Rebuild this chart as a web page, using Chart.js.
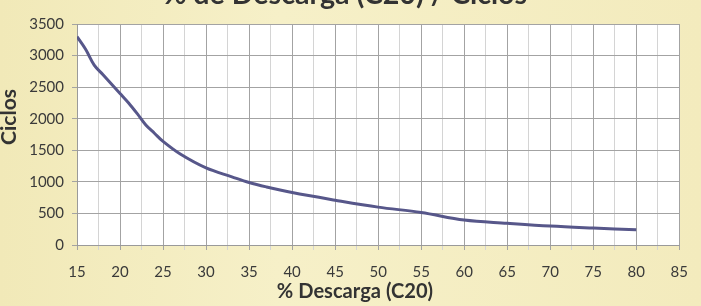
<!DOCTYPE html>
<html>
<head>
<meta charset="utf-8">
<script src="https://cdn.jsdelivr.net/npm/chart.js@4.4.0/dist/chart.umd.min.js"></script>
<style>
html,body{margin:0;padding:0;background:#f3ecbf;}
#wrap{width:701px;height:306px;position:relative;overflow:hidden;background:linear-gradient(90deg,#f1e9b8 0%,#f6f0c8 40%,#f3ebbd 100%);}
canvas{display:block;}
</style>
</head>
<body>
<div id="wrap"><canvas id="c" width="701" height="306"></canvas></div>
<script>
const chartTitle = '% de Descarga (C20) / Ciclos';
const xTitle = '% Descarga (C20)';
const yTitle = 'Ciclos';
const pctDescarga = [15,16,17,18,19,20,21,22,23,24,25,27,30,33,35,37,40,45,50,55,60,65,70,75,80];
const ciclos = [3300,3100,2850,2700,2550,2400,2250,2080,1900,1770,1640,1440,1220,1080,990,920,830,710,600,515,395,345,300,268,240];

const points = pctDescarga.map((x,i)=>({x:x,y:ciclos[i]}));
const FAM = 'Lato, "Open Sans", sans-serif';

function fitFont(ctx, text, width, base){
  ctx.font = 'bold ' + base + 'px ' + FAM;
  const w = ctx.measureText(text).width;
  return Math.round(base * width / w * 10) / 10;
}

const textPlugin = {
  id:'texts',
  beforeDraw(chart){
    const {ctx, chartArea:a} = chart;
    ctx.save();
    ctx.fillStyle='#ffffff';
    ctx.fillRect(a.left,a.top,a.right-a.left,a.bottom-a.top);
    ctx.restore();
  },
  afterDraw(chart){
    const ctx = chart.ctx;
    ctx.save();
    ctx.fillStyle='#333333';
    ctx.textAlign='center';
    ctx.textBaseline='alphabetic';
    let s = fitFont(ctx, chartTitle, 364, 20);
    ctx.font='bold ' + s + 'px ' + FAM;
    ctx.fillText(chartTitle, 345, 4);
    s = fitFont(ctx, xTitle, 156, 14);
    ctx.font='bold ' + s + 'px ' + FAM;
    ctx.fillText(xTitle, 355, 298);
    s = fitFont(ctx, yTitle, 56, 15);
    ctx.font='bold ' + s + 'px ' + FAM;
    ctx.translate(16,117);
    ctx.rotate(-Math.PI/2);
    ctx.fillText(yTitle, 0, 0);
    ctx.restore();
  }
};

new Chart(document.getElementById('c'),{
  type:'line',
  data:{datasets:[{data:points,borderColor:'#57578a',borderWidth:3,pointRadius:0,tension:0.35,fill:false}]},
  options:{
    responsive:false,
    animation:false,
    layout:{padding:{top:24,right:12,left:0,bottom:0}},
    plugins:{legend:{display:false},tooltip:{enabled:false}},
    scales:{
      x:{
        type:'linear',min:15,max:85,
        afterFit(s){s.height=61;},
        ticks:{stepSize:2.5,autoSkip:false,maxRotation:0,padding:13,color:'#3a3a3a',
          font:{family:FAM,size:15},
          callback:v=> (Math.abs(v%5)<1e-6)? String(v):''},
        grid:{color:c=> (c.tick && Math.abs(c.tick.value%5)<1e-6)?'#a3a3a3':'#d4d4d4',tickLength:5,lineWidth:1},
        border:{color:'#9a9a9a'}
      },
      y:{
        min:0,max:3500,
        afterFit(s){s.width=77;},
        ticks:{stepSize:500,padding:8,color:'#3a3a3a',
          font:{family:FAM,size:15},
          callback:v=>String(v)},
        grid:{color:'#a3a3a3',tickLength:5,lineWidth:1},
        border:{color:'#9a9a9a'}
      }
    }
  },
  plugins:[textPlugin]
});
</script>
</body>
</html>
